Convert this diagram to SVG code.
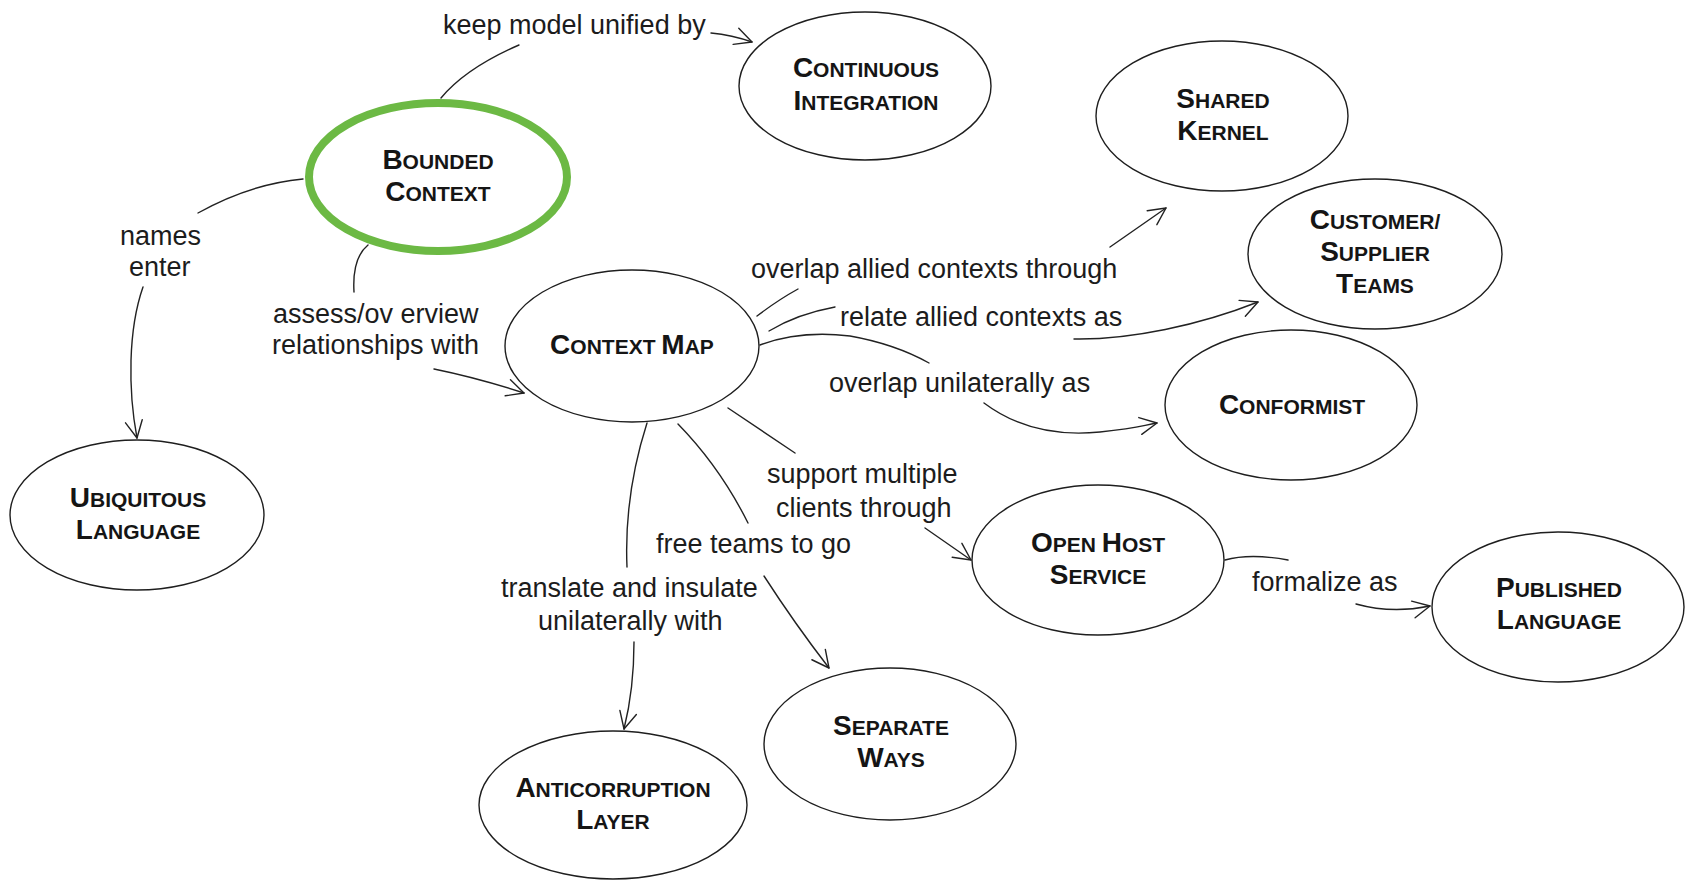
<svg xmlns="http://www.w3.org/2000/svg" width="1690" height="881" viewBox="0 0 1690 881">
  <style>
    .node ellipse { fill: #ffffff; stroke: #1e1e1e; stroke-width: 1.4; }
    .node ellipse.focus { fill: none; stroke: #6cb944; stroke-width: 8; }
    .nl { font-family: "Liberation Sans", Arial, sans-serif; font-weight: bold; font-size: 21px; fill: #151515; text-anchor: middle; }
    .nl .b { font-size: 28px; }
    .el { font-family: "Liberation Sans", Arial, sans-serif; font-size: 27px; fill: #1c1c1c; }
    #connectors path { fill: none; stroke: #222222; stroke-width: 1.4; stroke-linecap: round; }
    .arr path { fill: none; stroke: #222222; stroke-width: 1.4; stroke-linecap: round; stroke-linejoin: round; }
  </style>
  <defs>
    <marker id="arrow" class="arr" markerUnits="userSpaceOnUse" viewBox="-20 -12 22 24" refX="0" refY="0" markerWidth="22" markerHeight="24" orient="auto">
      <path d="M-17,-8.5 L0,0 L-17,8.5"/>
    </marker>
  </defs>
  <rect width="1690" height="881" fill="#ffffff"/>

  <!-- connectors: each relation is split around its label -->
  <g id="connectors">
    <path d="M441,98 Q466,68 519,45"/>
    <path d="M711,33 Q732,35 752,42" marker-end="url(#arrow)"/>

    <path d="M303,179 Q250,184 198,213"/>
    <path d="M143,287 C128,330 128,390 137,438" marker-end="url(#arrow)"/>

    <path d="M368,245 Q352,258 354,292"/>
    <path d="M434,369 Q478,378 524,393" marker-end="url(#arrow)"/>

    <path d="M757,316 Q778,300 798,289"/>
    <path d="M1110,247 Q1140,226 1166,208" marker-end="url(#arrow)"/>

    <path d="M769,331 Q797,314 835,307"/>
    <path d="M1074,339 C1130,340 1200,325 1258,302" marker-end="url(#arrow)"/>

    <path d="M760,345 Q800,330 850,336 Q895,344 929,363"/>
    <path d="M984,403 C1020,430 1060,436 1100,432 S1140,426 1157,423" marker-end="url(#arrow)"/>

    <path d="M728,408 L795,453"/>
    <path d="M925,528 L971,560" marker-end="url(#arrow)"/>

    <path d="M678,424 Q720,467 748,523"/>
    <path d="M764,576 Q795,624 829,668" marker-end="url(#arrow)"/>

    <path d="M647,423 C632,470 625,520 627,567"/>
    <path d="M634,642 C634,680 630,705 624,729" marker-end="url(#arrow)"/>

    <path d="M1225,560 Q1250,553 1288,560"/>
    <path d="M1356,604 Q1392,614 1430,606" marker-end="url(#arrow)"/>
  </g>

  <!-- connector labels -->
  <g id="labels">
    <text class="el" x="443" y="34">keep model unified by</text>
    <text class="el" x="120" y="245">names</text>
    <text class="el" x="129" y="276">enter</text>
    <text class="el" x="273" y="323">assess/ov erview</text>
    <text class="el" x="272" y="354">relationships with</text>
    <text class="el" x="751" y="278">overlap allied contexts through</text>
    <text class="el" x="840" y="326">relate allied contexts as</text>
    <text class="el" x="829" y="392">overlap unilaterally as</text>
    <text class="el" x="767" y="483">support multiple</text>
    <text class="el" x="776" y="517">clients through</text>
    <text class="el" x="656" y="553">free teams to go</text>
    <text class="el" x="501" y="597">translate and insulate</text>
    <text class="el" x="538" y="630">unilaterally with</text>
    <text class="el" x="1252" y="591">formalize as</text>
  </g>

  <!-- nodes -->
  <g id="bounded-context" class="node">
    <ellipse class="focus" cx="438" cy="177" rx="129" ry="74"/>
    <text class="nl" x="438" y="169"><tspan class="b">B</tspan>OUNDED</text>
    <text class="nl" x="438" y="201"><tspan class="b">C</tspan>ONTEXT</text>
  </g>

  <g id="continuous-integration" class="node">
    <ellipse cx="865" cy="86" rx="126" ry="74"/>
    <text class="nl" x="866" y="77"><tspan class="b">C</tspan>ONTINUOUS</text>
    <text class="nl" x="866" y="110"><tspan class="b">I</tspan>NTEGRATION</text>
  </g>

  <g id="shared-kernel" class="node">
    <ellipse cx="1222" cy="116" rx="126" ry="75"/>
    <text class="nl" x="1223" y="108"><tspan class="b">S</tspan>HARED</text>
    <text class="nl" x="1223" y="140"><tspan class="b">K</tspan>ERNEL</text>
  </g>

  <g id="customer-supplier-teams" class="node">
    <ellipse cx="1375" cy="254" rx="127" ry="75"/>
    <text class="nl" x="1375" y="229"><tspan class="b">C</tspan>USTOMER/</text>
    <text class="nl" x="1375" y="261"><tspan class="b">S</tspan>UPPLIER</text>
    <text class="nl" x="1375" y="293"><tspan class="b">T</tspan>EAMS</text>
  </g>

  <g id="conformist" class="node">
    <ellipse cx="1291" cy="405" rx="126" ry="75"/>
    <text class="nl" x="1292" y="414"><tspan class="b">C</tspan>ONFORMIST</text>
  </g>

  <g id="context-map" class="node">
    <ellipse cx="632" cy="346" rx="127" ry="76"/>
    <text class="nl" x="632" y="354"><tspan class="b">C</tspan>ONTEXT <tspan class="b">M</tspan>AP</text>
  </g>

  <g id="ubiquitous-language" class="node">
    <ellipse cx="137" cy="515" rx="127" ry="75"/>
    <text class="nl" x="138" y="507"><tspan class="b">U</tspan>BIQUITOUS</text>
    <text class="nl" x="138" y="539"><tspan class="b">L</tspan>ANGUAGE</text>
  </g>

  <g id="open-host-service" class="node">
    <ellipse cx="1098" cy="560" rx="126" ry="75"/>
    <text class="nl" x="1098" y="552"><tspan class="b">O</tspan>PEN <tspan class="b">H</tspan>OST</text>
    <text class="nl" x="1098" y="584"><tspan class="b">S</tspan>ERVICE</text>
  </g>

  <g id="published-language" class="node">
    <ellipse cx="1558" cy="607" rx="126" ry="75"/>
    <text class="nl" x="1559" y="597"><tspan class="b">P</tspan>UBLISHED</text>
    <text class="nl" x="1559" y="629"><tspan class="b">L</tspan>ANGUAGE</text>
  </g>

  <g id="separate-ways" class="node">
    <ellipse cx="890" cy="744" rx="126" ry="76"/>
    <text class="nl" x="891" y="735"><tspan class="b">S</tspan>EPARATE</text>
    <text class="nl" x="891" y="767"><tspan class="b">W</tspan>AYS</text>
  </g>

  <g id="anticorruption-layer" class="node">
    <ellipse cx="613" cy="805" rx="134" ry="74"/>
    <text class="nl" x="613" y="797"><tspan class="b">A</tspan>NTICORRUPTION</text>
    <text class="nl" x="613" y="829"><tspan class="b">L</tspan>AYER</text>
  </g>
</svg>
